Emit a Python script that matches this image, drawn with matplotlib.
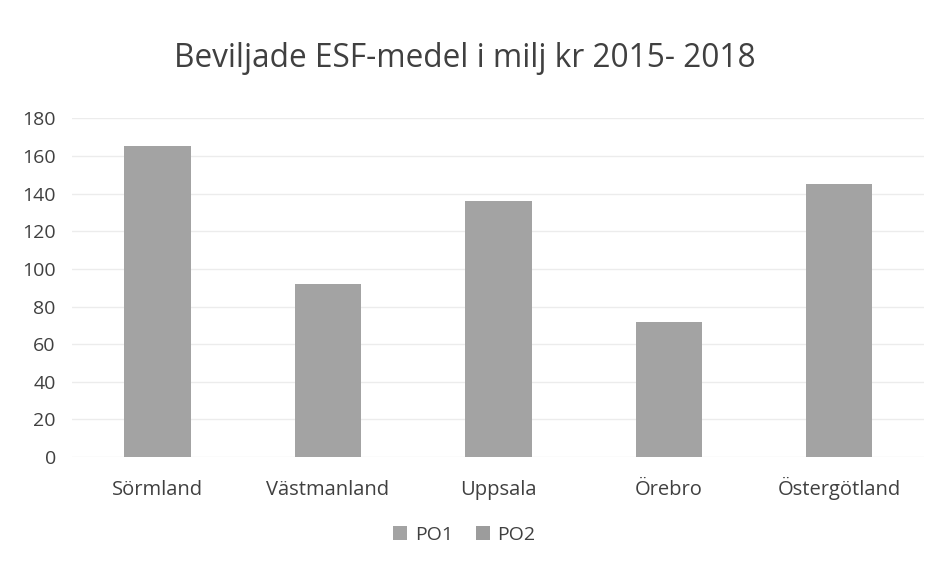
import matplotlib.pyplot as plt
import numpy as np

# data
regions = ["Sörmland", "Västmanland", "Uppsala", "Örebro", "Östergötland"]
po1 = [165, 92, 136, 72, 145]
po2 = [0, 0, 0, 0, 0]  # no split visible in the scan
yticks = [0, 20, 40, 60, 80, 100, 120, 140, 160, 180]

plt.rcParams['font.family'] = ['Open Sans', 'DejaVu Sans']

fig = plt.figure(figsize=(9.29, 5.63), dpi=100)
ax = fig.add_axes([0.078, 0.188, 0.917, 0.602])

x = np.arange(len(regions))
ax.bar(x, po1, width=0.39, color="#a3a3a3", label="PO1", zorder=2)
ax.bar(x, po2, width=0.39, bottom=po1, color="#9c9c9c", label="PO2", zorder=2)

ax.set_xlim(-0.5, len(regions) - 0.5)
ax.set_ylim(0, 180)
ax.set_yticks(yticks)
ax.set_xticks(x)
ax.set_xticklabels(regions, va="baseline")
ax.grid(axis="y", color="#ececec", linewidth=1, zorder=0)
for s in ax.spines.values():
    s.set_visible(False)
ax.tick_params(length=0, colors="#404040")
ax.tick_params(axis="y", labelsize=14, pad=12)
ax.tick_params(axis="x", labelsize=14.5, pad=27)

fig.suptitle("Beviljade ESF-medel i milj kr 2015- 2018", y=0.925,
             fontsize=22.8, color="#404040")
fig.legend(loc="center", bbox_to_anchor=(0.5, 0.05), ncol=2, frameon=False,
           fontsize=14, handlelength=0.7, handleheight=0.7, handletextpad=0.4,
           columnspacing=1.2, labelcolor="#404040")

fig.savefig("out.png", dpi=100)
